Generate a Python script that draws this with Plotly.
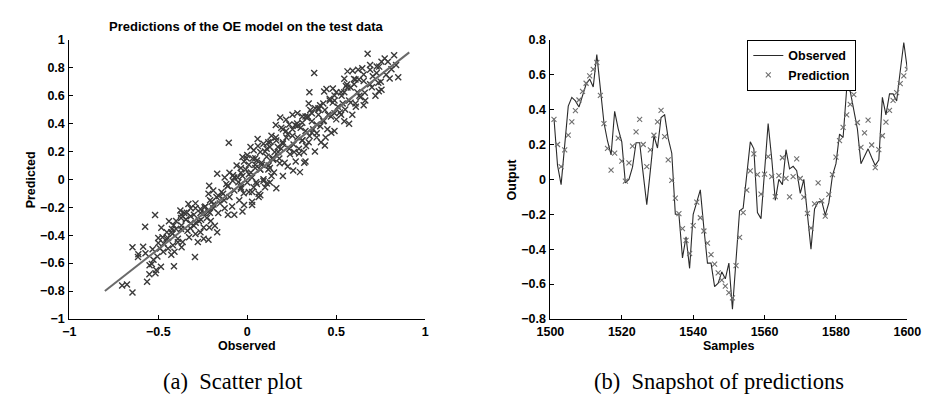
import plotly.graph_objects as go

# ---------------- data: (b) snapshot of predictions ----------------
samples = list(range(1501, 1601))

observed = [
    0.35, 0.08, -0.03, 0.18, 0.42, 0.47, 0.45, 0.415, 0.48, 0.545,
    0.575, 0.53, 0.715, 0.51, 0.325, 0.22, 0.14, 0.39, 0.29, 0.215,
    -0.02, 0.0, 0.07, 0.21, 0.21, 0.03, -0.145, 0.05, 0.25, 0.18,
    0.355, 0.37, 0.235, 0.15, -0.2, -0.2, -0.45, -0.33, -0.51, -0.2,
    -0.13, -0.06, -0.28, -0.48, -0.48, -0.615, -0.595, -0.53, -0.57, -0.48,
    -0.745, -0.46, -0.18, -0.165, 0.02, 0.215, 0.175, -0.19, -0.225, 0.05,
    0.32, 0.12, -0.12, 0.0, -0.03, 0.17, 0.06, 0.075, 0.05, -0.08,
    0.0, -0.2, -0.4, -0.17, -0.13, -0.125, -0.205, -0.135, 0.02, 0.09,
    0.26, 0.24, 0.52, 0.505, 0.4, 0.29, 0.09, 0.13, 0.175, 0.125,
    0.08, 0.11, 0.47, 0.37, 0.49, 0.49, 0.45, 0.62, 0.785, 0.63,
]

prediction = [
    0.344, 0.20, 0.073, 0.169, 0.254, 0.33, 0.394, 0.455, 0.505, 0.551,
    0.593, 0.63, 0.67, 0.481, 0.32, 0.178, 0.053, 0.15, 0.237, 0.104,
    -0.01, 0.095, 0.19, 0.272, 0.344, 0.20, 0.073, 0.169, 0.253, 0.33,
    0.395, 0.245, 0.112, -0.006, -0.108, -0.196, -0.283, -0.35, -0.425, -0.265,
    -0.13, -0.22, -0.296, -0.366, -0.432, -0.486, -0.536, -0.578, -0.612, -0.649,
    -0.68, -0.495, -0.333, -0.191, -0.062, 0.049, 0.146, 0.027, -0.084, 0.03,
    0.13, 0.016, -0.099, 0.021, 0.124, 0.006, -0.1, 0.016, 0.118, 0.005,
    -0.102, -0.195, -0.28, -0.14, -0.02, -0.123, -0.211, -0.086, 0.027, 0.127,
    0.222, 0.298, 0.37, 0.43, 0.486, 0.326, 0.183, 0.266, 0.34, 0.197,
    0.067, 0.17, 0.25, 0.328, 0.395, 0.453, 0.497, 0.549, 0.593, 0.63,
]

# ---------------- data: (a) scatter of observed vs predicted ----------------
scatter_observed = [
    -0.703, -0.676, -0.645, -0.563, -0.55, -0.516, -0.512, -0.549, -0.536, -0.485,
    -0.412, -0.294, -0.645, -0.585, -0.612, -0.614, -0.572, -0.532, -0.505, -0.518,
    -0.574, -0.483, -0.452, -0.476, -0.5, -0.445, -0.418, -0.423, -0.409, -0.369,
    -0.39, -0.363, -0.414, -0.372, -0.331, -0.318, -0.291, -0.278, -0.245, -0.218,
    -0.213, -0.169, -0.182, -0.205, -0.3, -0.263, -0.227, -0.291, -0.376, -0.345,
    -0.4, -0.354, -0.318, -0.209, -0.191, -0.214, -0.169, -0.127, -0.1, -0.118,
    -0.136, -0.1, -0.073, -0.045, -0.073, -0.027, -0.154, -0.085, 0.009, 0.027,
    0.064, -0.004, 0.045, 0.073, 0.027, -0.036, -0.009, -0.054, -0.082,
    -0.445, -0.472, -0.372, -0.336, -0.3, -0.272, -0.245, -0.218, -0.191, -0.163,
    -0.127, -0.109, -0.245, -0.263, -0.327, -0.427, -0.49, -0.527,
    0.676, 0.772, 0.825, 0.754, 0.79, 0.836, 0.848, 0.8, 0.741, 0.69,
    0.727, 0.705, 0.376, 0.563, 0.592, 0.623, 0.646, 0.545, 0.608, 0.654,
    0.69, 0.736, 0.754, 0.739, 0.349, 0.432, 0.445, 0.481, 0.5, 0.545,
    0.581, 0.554, 0.618, 0.636, 0.663, 0.654, 0.608, 0.572, 0.536, 0.49,
    0.463, 0.509, 0.59, 0.572, 0.49, 0.472, 0.436, 0.414, 0.345, 0.354,
    0.381, 0.409, 0.436, 0.4, 0.454, 0.49, 0.527, 0.545, 0.427, 0.39,
    0.363, 0.336, 0.309, 0.282, 0.254, 0.185, 0.218, 0.236, 0.269, 0.3,
    0.327, 0.363, 0.39, 0.345, 0.309, 0.282, 0.254, 0.218, 0.191, 0.16,
    0.136, 0.058, 0.118, 0.163, 0.2, 0.236, 0.263, 0.291, 0.318, 0.327,
    0.272, 0.258, 0.296, 0.2, 0.163, 0.227, 0.182, 0.145, 0.109, 0.073,
    0.036, 0.018, 0.0, -0.018, -0.036, -0.027, 0.009, 0.045, 0.082, 0.118,
    0.136, 0.091, 0.054, 0.027, 0.073, 0.1, 0.127, 0.027, -0.018, -0.036,
    0.054, 0.154, 0.172, 0.127, 0.091,
    -0.104,
    -0.027, 0.009, 0.045, 0.073, -0.036, -0.073, -0.109, -0.145, -0.173, -0.2,
    -0.218, -0.236, -0.263, -0.291, -0.318, -0.345, -0.372, -0.4, -0.427, -0.454,
    -0.036, 0.0, 0.036, 0.064, 0.091, 0.127, 0.145, 0.173, 0.2, 0.109,
    0.227, 0.254, 0.282, 0.309, 0.327, 0.363, 0.4, 0.427, 0.463, 0.49,
    0.527, 0.563, 0.6, 0.627, 0.654, 0.69, 0.727,
    0.12, 0.15, 0.18, 0.21, 0.24, 0.26, 0.29, 0.31, 0.33, 0.35,
    0.37, 0.39, 0.41, 0.43, 0.45, 0.47, 0.5, 0.52, 0.55, 0.58,
    0.61, 0.63, 0.66, 0.7, 0.72, 0.75, 0.78, 0.81, -0.02, -0.05,
    -0.08, -0.11, -0.13, -0.16, -0.19, -0.21, -0.24, -0.26, -0.29, -0.32,
    -0.34, -0.37, -0.39, -0.42, -0.44, -0.47, -0.5, 0.02, 0.05, 0.08,
    0.1, 0.13, 0.16, 0.19, 0.22, 0.06, 0.03, -0.06, 0.11, 0.14,
    0.2, 0.28, 0.34, 0.4, 0.48, 0.53, 0.56, 0.6, 0.44, 0.38,
    0.32,
]

scatter_predicted = [
    -0.76, -0.753, -0.811, -0.733, -0.68, -0.672, -0.649, -0.615, -0.606, -0.626,
    -0.622, -0.557, -0.486, -0.483, -0.536, -0.557, -0.53, -0.5, -0.553, -0.255,
    -0.34, -0.347, -0.379, -0.414, -0.456, -0.421, -0.472, -0.356, -0.518, -0.486,
    -0.426, -0.449, -0.329, -0.276, -0.176, -0.315, -0.391, -0.449, -0.426, -0.433,
    -0.345, -0.379, -0.333, -0.299, -0.253, -0.213, -0.276, -0.207, -0.223, -0.287,
    -0.299, -0.241, -0.264, -0.149, -0.08, -0.045, 0.04, 0.013, 0.047, -0.033,
    -0.103, -0.126, -0.08, -0.149, -0.253, -0.23, -0.172, -0.195, -0.091, -0.183,
    -0.126, 0.151, 0.105, 0.07, 0.013, -0.033, 0.07, 0.013, -0.01,
    -0.495, -0.518, -0.356, -0.368, -0.333, -0.299, -0.241, -0.23, -0.207, -0.241,
    -0.207, -0.253, -0.345, -0.379, -0.414, -0.541, -0.495, -0.576,
    0.901, 0.866, 0.889, 0.843, 0.843, 0.82, 0.732, 0.723, 0.808, 0.82,
    0.762, 0.739, 0.762, 0.774, 0.779, 0.785, 0.797, 0.721, 0.716, 0.705,
    0.682, 0.693, 0.642, 0.631, 0.624, 0.629, 0.647, 0.652, 0.624, 0.624,
    0.658, 0.67, 0.624, 0.589, 0.566, 0.532, 0.543, 0.566, 0.543, 0.566,
    0.578, 0.52, 0.463, 0.398, 0.347, 0.335, 0.243, 0.266, 0.543, 0.497,
    0.509, 0.532, 0.497, 0.463, 0.463, 0.474, 0.463, 0.417, 0.417, 0.394,
    0.417, 0.44, 0.451, 0.474, 0.463, 0.444, 0.428, 0.393, 0.389, 0.37,
    0.347, 0.335, 0.301, 0.266, 0.278, 0.301, 0.312, 0.347, 0.37, 0.389,
    0.312, 0.29, 0.266, 0.278, 0.255, 0.22, 0.197, 0.186, 0.197, 0.128,
    0.128, 0.063, 0.052, 0.024, -0.063, 0.093, 0.116, 0.14, 0.163, 0.197,
    0.209, 0.232, 0.174, 0.128, 0.082, 0.024, 0.036, 0.082, 0.105, 0.07,
    0.024, 0.001, -0.033, -0.091, -0.114, -0.056, -0.022, -0.16, -0.183, -0.068,
    0.135, 0.197, 0.232, 0.232, 0.255,
    0.262,
    0.161, 0.105, 0.151, 0.07, 0.047, 0.013, -0.045, -0.091, -0.126, -0.16,
    -0.103, -0.195, -0.241, -0.172, -0.207, -0.288, -0.253, -0.356, -0.379, -0.426,
    -0.057, -0.022, -0.057, -0.103, -0.011, 0.082, 0.151, 0.197, 0.266, 0.22,
    0.324, 0.359, 0.382, 0.405, 0.451, 0.474, 0.509, 0.543, 0.566, 0.601,
    0.624, 0.659, 0.682, 0.716, 0.751, 0.785, 0.809,
    0.10, 0.05, 0.15, 0.12, 0.18, 0.25, 0.22, 0.28, 0.24, 0.31,
    0.36, 0.33, 0.38, 0.42, 0.36, 0.45, 0.43, 0.48, 0.50, 0.55,
    0.52, 0.60, 0.62, 0.66, 0.60, 0.70, 0.75, 0.79, -0.10, -0.02,
    0.03, -0.05, -0.15, -0.12, -0.18, -0.24, -0.20, -0.29, -0.31, -0.35,
    -0.24, -0.33, -0.45, -0.39, -0.30, -0.46, -0.42, 0.05, -0.02, 0.12,
    0.20, 0.27, 0.30, 0.22, 0.30, 0.24, 0.15, 0.10, -0.03, 0.15,
    0.36, 0.40, 0.45, 0.50, 0.55, 0.60, 0.68, 0.72, 0.30, 0.20,
    0.12,
]

# least-squares reference line (y = x over the observed span)
fit_line = [-0.80, 0.91]

# ---------------- styling ----------------
AX_FONT = dict(family="Liberation Sans", size=12.5, color="black", weight="bold")
TITLE_FONT = dict(family="Liberation Sans", size=13, color="black", weight="bold")
LBL_FONT = dict(family="Liberation Sans", size=12.5, color="black", weight="bold")
LEG_FONT = dict(family="Liberation Sans", size=12.5, color="black", weight="bold")
CAP_FONT = dict(family="Liberation Serif", size=22.5, color="black")

fig = go.Figure()

fig.add_trace(go.Scatter(
    x=scatter_observed, y=scatter_predicted, mode="markers",
    marker=dict(symbol="x-thin-open", size=6, color="#3a3a3a",
                line=dict(width=1.4, color="#3a3a3a")),
    showlegend=False, xaxis="x", yaxis="y",
))
fig.add_trace(go.Scatter(
    x=fit_line, y=fit_line, mode="lines",
    line=dict(color="#6a6a6a", width=2), showlegend=False, xaxis="x", yaxis="y",
))

fig.add_trace(go.Scatter(
    x=samples, y=observed, mode="lines", name="Observed",
    line=dict(color="#2a2a2a", width=1.1), xaxis="x2", yaxis="y2",
))
fig.add_trace(go.Scatter(
    x=samples, y=prediction, mode="markers", name="Prediction",
    marker=dict(symbol="x-thin-open", size=5, color="#707070",
                line=dict(width=1.1, color="#707070")),
    xaxis="x2", yaxis="y2",
))

axis_common = dict(
    showgrid=False, zeroline=False, showline=True, linecolor="black", linewidth=1,
    mirror=False, ticks="inside", ticklen=4, tickcolor="black", tickwidth=1,
    tickfont=AX_FONT,
)

W, H = 933, 408
fig.update_layout(
    width=W, height=H,
    margin=dict(l=0, r=0, t=0, b=0),
    paper_bgcolor="white", plot_bgcolor="white",
    xaxis=dict(domain=[57 / W, 424 / W], range=[-1, 1], dtick=0.5,
               anchor="y", ticklabelstandoff=1, **axis_common),
    yaxis=dict(domain=[(H - 323) / H, (H - 34) / H], range=[-1, 1], dtick=0.2,
               anchor="x", ticklabelstandoff=1, **axis_common),
    xaxis2=dict(domain=[553 / W, 921 / W], range=[1500, 1600], dtick=20,
                anchor="y2", ticklabelstandoff=1, **axis_common),
    yaxis2=dict(domain=[(H - 323) / H, (H - 34) / H], range=[-0.8, 0.8], dtick=0.2,
                anchor="x2", ticklabelstandoff=1, **axis_common),
    legend=dict(
        x=756 / W, y=1 - 60.5 / H, xanchor="left", yanchor="middle",
        bgcolor="white", bordercolor="black", borderwidth=1,
        font=LEG_FONT, itemwidth=30, tracegroupgap=0,
    ),
    annotations=[
        dict(text="Predictions of the OE model on the test data", x=240 / W, y=1 - 20 / H,
             xref="paper", yref="paper", showarrow=False, font=TITLE_FONT,
             xanchor="center", yanchor="middle"),
        dict(text="Predicted", x=17 / W, y=1 - 179 / H, xref="paper", yref="paper",
             showarrow=False, font=LBL_FONT, textangle=-90,
             xanchor="center", yanchor="middle"),
        dict(text="Observed", x=240 / W, y=1 - 351 / H, xref="paper", yref="paper",
             showarrow=False, font=LBL_FONT, xanchor="center", yanchor="middle"),
        dict(text="Output", x=513 / W, y=1 - 179 / H, xref="paper", yref="paper",
             showarrow=False, font=LBL_FONT, textangle=-90,
             xanchor="center", yanchor="middle"),
        dict(text="Samples", x=737 / W, y=1 - 351 / H, xref="paper", yref="paper",
             showarrow=False, font=LBL_FONT, xanchor="center", yanchor="middle"),
        dict(text="(a)  Scatter plot", x=226 / W, y=1 - 388 / H, xref="paper", yref="paper",
             showarrow=False, font=CAP_FONT, xanchor="center", yanchor="middle"),
        dict(text="(b)  Snapshot of predictions", x=727 / W, y=1 - 388 / H,
             xref="paper", yref="paper", showarrow=False, font=CAP_FONT,
             xanchor="center", yanchor="middle"),
    ],
)

fig.write_html("out.html")
